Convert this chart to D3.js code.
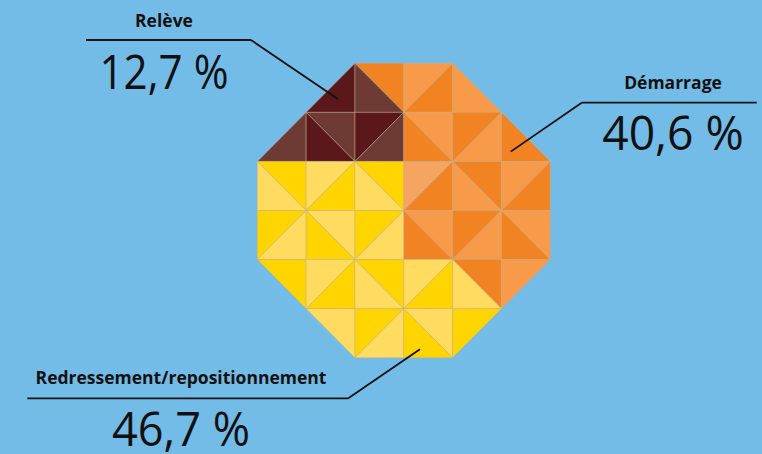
<!DOCTYPE html>
<html>
<head>
<meta charset="utf-8">
<script src="https://cdn.jsdelivr.net/npm/d3@7/dist/d3.min.js"></script>
<style>
  html, body { margin: 0; padding: 0; background: #74BCE8; }
  svg { display: block; }
</style>
</head>
<body>
<svg id="chart" width="762" height="454"></svg>
<script>
// ---- Data ----
const categories = ["Relève", "Démarrage", "Redressement/repositionnement"];
const values = [12.7, 40.6, 46.7];
const valueLabels = ["12,7 %", "40,6 %", "46,7 %"];

// Octagon mosaic: 6x6 cells, two triangles per cell (12 chars per row).
// Letter = category + shade (R/r Relève, O/o/p Démarrage, Y/y Redressement), "." = empty.
const mosaicRows = [
  "...ROroO.o..",
  ".rrRRroOOo.O",
  "YyyYYypOOooO",
  "YyyYYyoOOooO",
  "Y.yYYyyYOyo.",
  "..y.YyyYY..."
];

// leader line anchors on the mosaic (grid units)
const anchorCol = [1.65, 5.19, 3.33];
const anchorRow = [0.73, 1.80, 5.83];

// ---- Styles ----
const shadeColors = {
  R: "#5A181D", r: "#6D3A34",
  O: "#F28322", o: "#F79A4A", p: "#F5A462",
  Y: "#FFD500", y: "#FFDC60"
};

const svg = d3.select("#chart");
svg.append("rect").attr("width", 762).attr("height", 454).attr("fill", "#74BCE8");

const x = d3.scaleLinear().domain([0, 6]).range([257.3, 550.3]);
const y = d3.scaleLinear().domain([0, 6]).range([63.3, 357.7]);

// build triangles
const tris = [];
mosaicRows.forEach((row, r) => {
  for (let c = 0; c < 6; c++) {
    const a = row[2 * c], b = row[2 * c + 1];
    const TL = [c, r], TR = [c + 1, r], BL = [c, r + 1], BR = [c + 1, r + 1];
    let first, second;
    if ((r + c) % 2 === 0) { first = [TL, TR, BR]; second = [TL, BR, BL]; }
    else { first = [TL, TR, BL]; second = [TR, BR, BL]; }
    if (a !== ".") tris.push({ key: a, pts: first });
    if (b !== ".") tris.push({ key: b, pts: second });
  }
});

svg.append("g").selectAll("path").data(tris).join("path")
  .attr("d", d => "M" + d.pts.map(p => x(p[0]) + "," + y(p[1])).join("L") + "Z")
  .attr("fill", d => shadeColors[d.key])
  .attr("stroke", "rgba(205,175,130,0.55)")
  .attr("stroke-width", 0.9)
  .attr("stroke-linejoin", "round");

// ---- Labels & leader lines ----
const labelLayout = [
  { cx: 164, nameY: 26.5, valY: 88.5, valW: 129, lineY: 40, x1: 86, x2: 251, elbow: 251 },
  { cx: 673, nameY: 89.3, valY: 150, valW: 141.6, lineY: 102.7, x1: 581.7, x2: 756.7, elbow: 581.7 },
  { cx: 181, nameY: 384.3, valY: 446, valW: 138, lineY: 398.3, x1: 27.3, x2: 348.3, elbow: 348.3 }
];

const g = svg.append("g");
categories.forEach((name, i) => {
  const L = labelLayout[i];
  g.append("path")
    .attr("d", `M${L.x1},${L.lineY}L${L.x2},${L.lineY}M${L.elbow},${L.lineY}L${x(anchorCol[i])},${y(anchorRow[i])}`)
    .attr("fill", "none").attr("stroke", "#111").attr("stroke-width", 1.8);
  g.append("text")
    .attr("x", L.cx).attr("y", L.nameY)
    .attr("text-anchor", "middle")
    .attr("font-family", "'Open Sans', sans-serif")
    .attr("font-weight", 700)
    .attr("font-size", 17.5)
    .attr("fill", "#111")
    .text(name);
  g.append("text")
    .attr("x", L.cx).attr("y", L.valY)
    .attr("text-anchor", "middle")
    .attr("font-family", "'Open Sans', sans-serif")
    .attr("font-weight", 400)
    .attr("font-size", 48)
    .attr("textLength", L.valW)
    .attr("lengthAdjust", "spacingAndGlyphs")
    .attr("fill", "#111")
    .text(valueLabels[i]);
});
</script>
</body>
</html>
